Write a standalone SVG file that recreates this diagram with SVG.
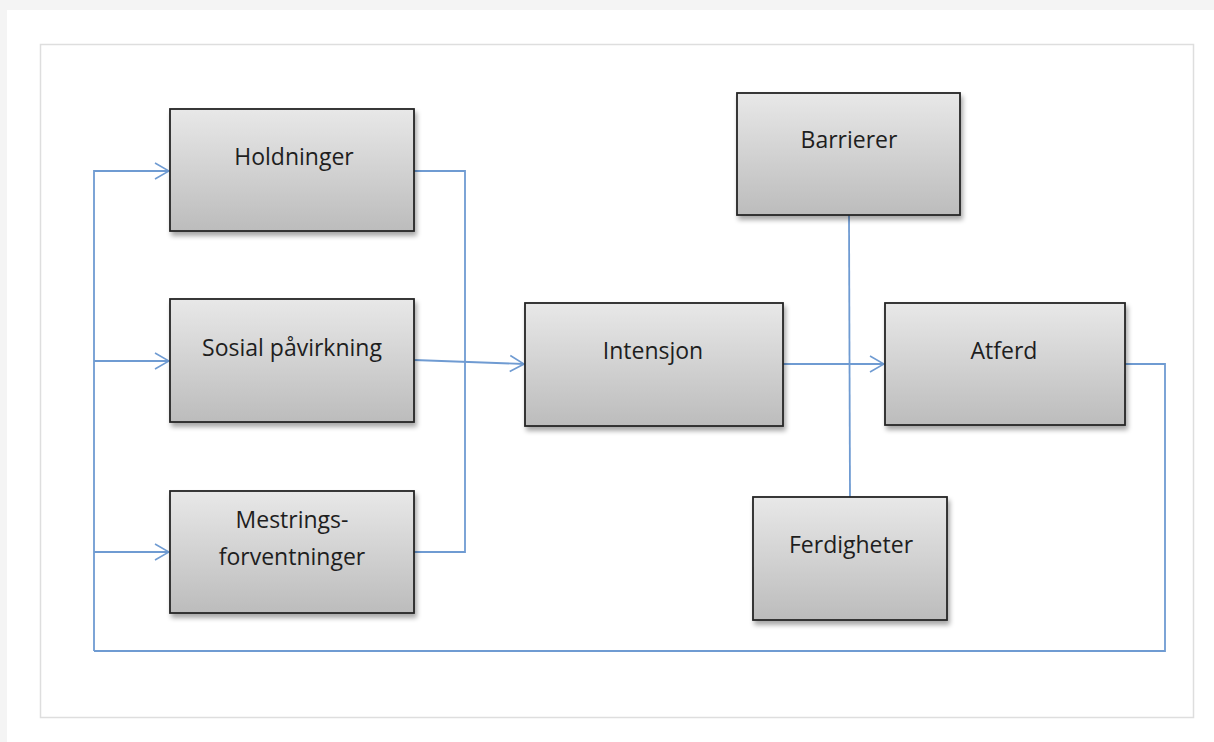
<svg xmlns="http://www.w3.org/2000/svg" width="1214" height="742" viewBox="0 0 1214 742">
<defs>
<linearGradient id="g" x1="0" y1="0" x2="0" y2="1">
<stop offset="0" stop-color="#e8e8e8"/>
<stop offset="1" stop-color="#bcbcbc"/>
</linearGradient>
<filter id="sh" x="-10%" y="-10%" width="130%" height="130%">
<feGaussianBlur in="SourceAlpha" stdDeviation="2.5"/>
<feOffset dx="2" dy="4" result="b"/>
<feComponentTransfer><feFuncA type="linear" slope="0.35"/></feComponentTransfer>
<feMerge><feMergeNode/><feMergeNode in="SourceGraphic"/></feMerge>
</filter>
<marker id="arr" viewBox="0 0 16 20" refX="15" refY="10" markerWidth="16" markerHeight="20" markerUnits="userSpaceOnUse" orient="auto">
<path d="M1,2 L15,10 L1,18" fill="none" stroke="#6f9bd2" stroke-width="1.6"/>
</marker>
<style>
.box{fill:url(#g);stroke:#262626;stroke-width:1.8;filter:url(#sh)}
.lbl{font-family:"Open Sans","Liberation Sans",sans-serif;font-size:23px;fill:#1e1e1e;text-anchor:middle}
.c{fill:none;stroke:#6f9bd2;stroke-width:1.8}
</style>
</defs>
<rect x="0" y="0" width="1214" height="742" fill="#f4f4f4"/>
<rect x="7" y="10" width="1207" height="732" fill="#ffffff"/>
<rect x="40.5" y="44.5" width="1153" height="673" fill="#ffffff" stroke="#dedede" stroke-width="1.5"/>
<g id="connectors">
<polyline class="c" points="94,651 94,171 169,171" marker-end="url(#arr)"/>
<line class="c" x1="94" y1="361" x2="169" y2="361" marker-end="url(#arr)"/>
<line class="c" x1="94" y1="552" x2="169" y2="552" marker-end="url(#arr)"/>
<polyline class="c" points="1125,364 1165,364 1165,651 94,651"/>
<polyline class="c" points="414,171 465,171 465,552 414,552"/>
<line class="c" x1="414" y1="360" x2="524" y2="364" marker-end="url(#arr)"/>
<line class="c" x1="783" y1="364" x2="884" y2="364" marker-end="url(#arr)"/>
<line class="c" x1="849" y1="215" x2="850" y2="497"/>
</g>
<g id="holdninger"><rect class="box" x="170" y="109" width="244" height="122"/><text class="lbl" x="294" y="165">Holdninger</text></g>
<g id="sosial"><rect class="box" x="170" y="299" width="244" height="123"/><text class="lbl" x="292" y="356">Sosial påvirkning</text></g>
<g id="mestrings"><rect class="box" x="170" y="491" width="244" height="122"/><text class="lbl" x="292" y="528">Mestrings-</text><text class="lbl" x="292" y="565">forventninger</text></g>
<g id="intensjon"><rect class="box" x="525" y="303" width="258" height="123"/><text class="lbl" x="653" y="359">Intensjon</text></g>
<g id="atferd"><rect class="box" x="885" y="303" width="240" height="122"/><text class="lbl" x="1004" y="359">Atferd</text></g>
<g id="barrierer"><rect class="box" x="737" y="93" width="223" height="122"/><text class="lbl" x="849" y="148">Barrierer</text></g>
<g id="ferdigheter"><rect class="box" x="753" y="497" width="194" height="123"/><text class="lbl" x="851" y="553">Ferdigheter</text></g>
</svg>
